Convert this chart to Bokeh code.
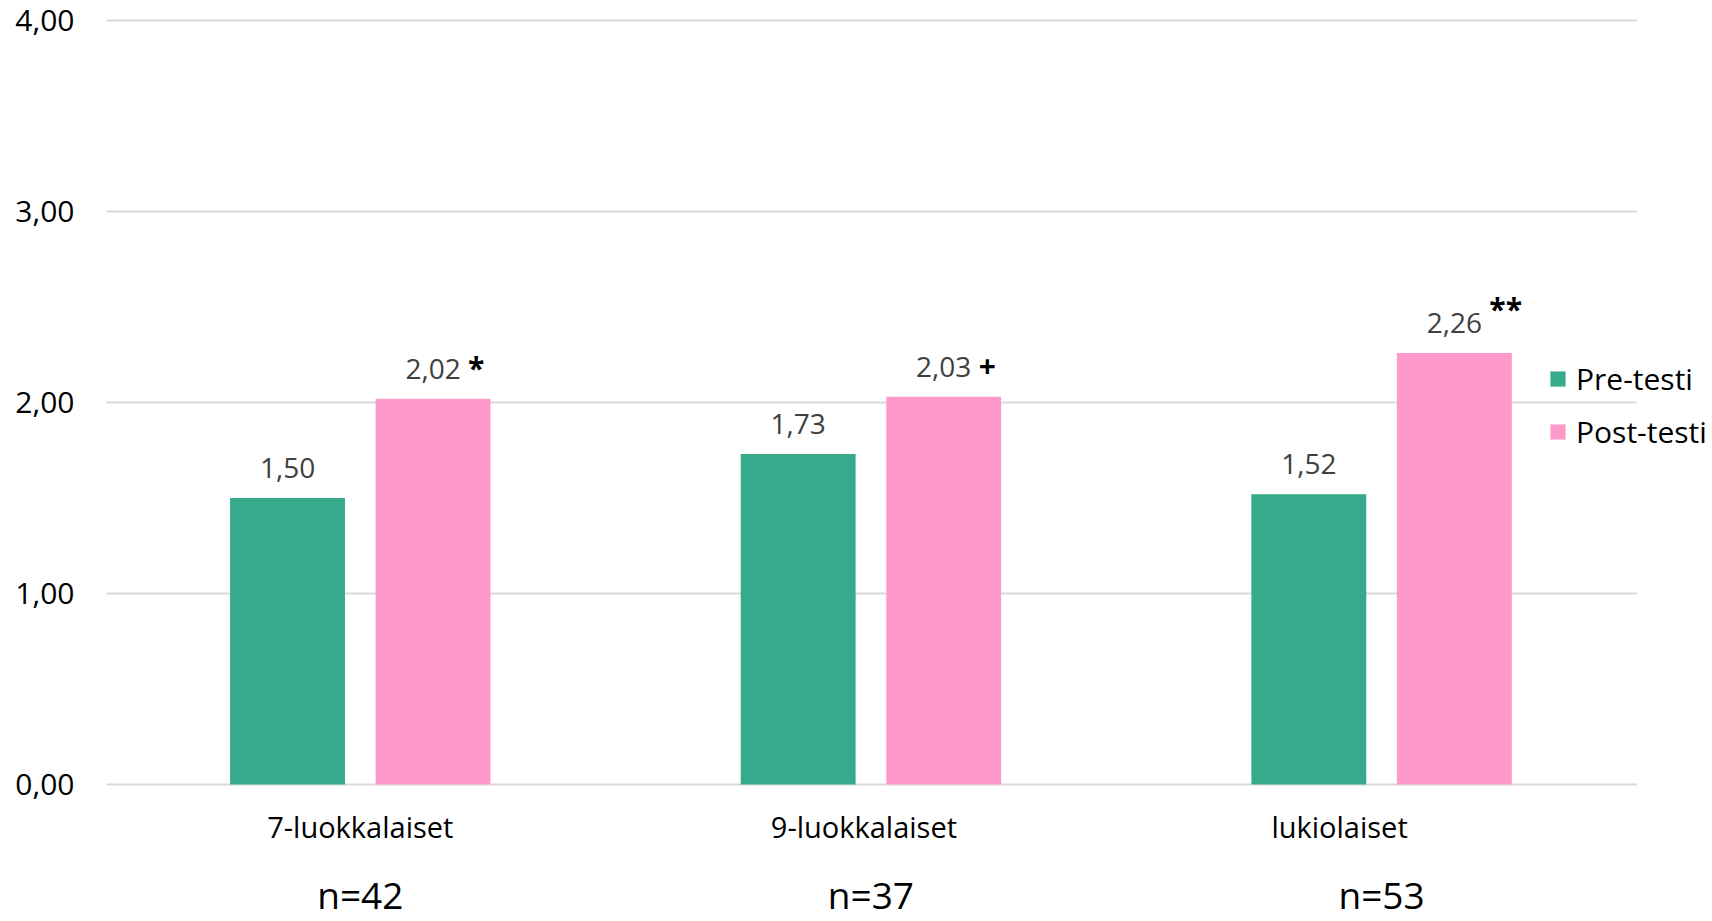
from bokeh.plotting import figure
from bokeh.models import (ColumnDataSource, Range1d, LabelSet, Legend,
                          LegendItem, CustomJSTickFormatter, FixedTicker)
from bokeh.transform import dodge
from bokeh.core.properties import value
from bokeh.embed import file_html
from bokeh.resources import INLINE

# ---- data ----
groups = ["7-luokkalaiset", "9-luokkalaiset", "lukiolaiset"]
sample_sizes = ["n=42", "n=37", "n=53"]
series_names = ["Pre-testi", "Post-testi"]
pre_values = [1.50, 1.73, 1.52]
post_values = [2.02, 2.03, 2.26]
significance = ["*", "+", "**"]
y_ticks = [0, 1, 2, 3, 4]

# ---- styles / positions ----
FONT = "Open Sans"
GREEN = "#36ab8c"
PINK = "#ff99cc"
GRID = "#d9d9d9"
BAR_W = 0.225
DODGE = 0.1425
cat_label_dx = [0, -7, -42]
sig_label_dy = [20, 20, 33]


def fmt(v):
    return f"{v:.2f}".replace(".", ",")


n_groups = len(groups)
group_pos = [i + 0.5 for i in range(n_groups)]

src = ColumnDataSource(dict(
    x=group_pos,
    group=groups,
    pre=pre_values,
    post=post_values,
    pre_lbl=[fmt(v) for v in pre_values],
    post_lbl=[fmt(v) for v in post_values],
    sig=significance,
    n=sample_sizes,
    zero=[0] * n_groups,
    cat_dx=cat_label_dx,
    sig_dy=sig_label_dy,
))

grid_src = ColumnDataSource(dict(
    y=y_ticks,
    x0=[0] * len(y_ticks),
    x1=[n_groups] * len(y_ticks),
))

p = figure(x_range=Range1d(0.003, 3.148), y_range=Range1d(-0.717, 4.105),
           x_axis_type=None,
           width=1712, height=921, output_backend="svg", toolbar_location=None,
           min_border_left=106, min_border_right=0, min_border_top=0, min_border_bottom=0)

p.outline_line_color = None
p.background_fill_color = "white"
p.border_fill_color = "white"
p.xgrid.visible = False
p.ygrid.visible = False

ya = p.yaxis[0]
ya.ticker = FixedTicker(ticks=y_ticks)
ya.formatter = CustomJSTickFormatter(code="return tick.toFixed(2).replace('.', ',');")
ya.axis_line_color = None
ya.major_tick_line_color = None
ya.minor_tick_line_color = None
ya.major_tick_out = 0
ya.major_tick_in = 0
ya.major_label_standoff = 32
ya.major_label_text_font = FONT
ya.major_label_text_font_size = "30px"
ya.major_label_text_color = "#000000"

# horizontal gridlines, limited to the plotting area of the groups
p.segment(x0="x0", x1="x1", y0="y", y1="y", source=grid_src,
          line_color=GRID, line_width=2)

r_pre = p.vbar(x=dodge("x", -DODGE), top="pre", width=BAR_W,
               source=src, fill_color=GREEN, line_color=None)
r_post = p.vbar(x=dodge("x", DODGE), top="post", width=BAR_W,
                source=src, fill_color=PINK, line_color=None)

common = dict(source=src, text_font=value(FONT), text_baseline="alphabetic")

p.add_layout(LabelSet(x=dodge("x", -DODGE), y="pre", text="pre_lbl",
                      text_align="center", y_offset=20, text_font_size="28px",
                      text_color="#404040", **common))
p.add_layout(LabelSet(x=dodge("x", DODGE), y="post", text="post_lbl",
                      text_align="center", y_offset=20, text_font_size="28px",
                      text_color="#404040", **common))
p.add_layout(LabelSet(x=dodge("x", DODGE), y="post", text="sig",
                      text_align="left", x_offset=35, y_offset="sig_dy", text_font_size="30px",
                      text_font_style="bold", text_color="#000000", **common))
p.add_layout(LabelSet(x="x", y="zero", text="group", text_align="center",
                      x_offset="cat_dx", y_offset=-53, text_font_size="29px",
                      text_color="#000000", **common))
p.add_layout(LabelSet(x="x", y="zero", text="n", text_align="center",
                      y_offset=-124, text_font_size="37px",
                      text_color="#000000", **common))

legend = Legend(items=[LegendItem(label=series_names[0], renderers=[r_pre]),
                       LegendItem(label=series_names[1], renderers=[r_post])],
                location=(1442, 469), orientation="vertical", padding=0, margin=0,
                border_line_color=None, background_fill_alpha=0,
                glyph_width=19, glyph_height=19, label_standoff=9, spacing=12,
                label_height=18, label_text_font=FONT, label_text_font_size="30px",
                label_text_color="#000000")
p.add_layout(legend)

open("out.html", "w").write(file_html(p, INLINE))
